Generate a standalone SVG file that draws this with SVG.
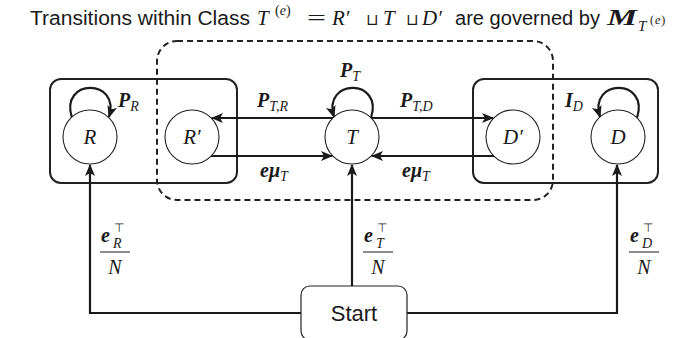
<svg xmlns="http://www.w3.org/2000/svg" width="699" height="338" viewBox="0 0 699 338">
<style>
.sans{font-family:"Liberation Sans","DejaVu Sans",sans-serif;fill:#1a1a1a}
.mi{font-family:"Liberation Serif","DejaVu Serif",serif;font-style:italic;font-weight:normal;fill:#1a1a1a}
.mr{font-family:"Liberation Serif","DejaVu Serif",serif;font-style:normal;font-weight:normal;fill:#1a1a1a}
.mb{font-family:"Liberation Serif","DejaVu Serif",serif;font-style:italic;font-weight:bold;fill:#1a1a1a}
.sym{font-family:"DejaVu Sans",sans-serif;font-weight:normal;font-style:normal;fill:#1a1a1a}
.node{fill:#fff;stroke:#222;stroke-width:1.1}
.box{fill:none;stroke:#222;stroke-width:2}
.dash{fill:none;stroke:#222;stroke-width:2;stroke-dasharray:6 4}
.edge{fill:none;stroke:#1a1a1a;stroke-width:2.2;marker-end:url(#ah)}
.start{fill:#fff;stroke:#222;stroke-width:1.2}
.lbl{font-size:20px}
.sub{font-size:14px}
</style>
<defs>
<marker id="ah" viewBox="0 0 12 10" refX="11" refY="5" markerWidth="12" markerHeight="10" markerUnits="userSpaceOnUse" orient="auto">
<path d="M0,0 L12,5 L0,10 L3,5 z" fill="#1a1a1a"/>
</marker>
</defs>

<g id="title">
<text class="sans" x="30" y="25" font-size="20" textLength="220" lengthAdjust="spacingAndGlyphs">Transitions within Class</text>
<text class="mi" x="257" y="25" font-size="21">T</text>
<text class="mr" x="275" y="15" font-size="14">(<tspan class="mi">e</tspan>)</text>
<text class="mr" x="307" y="25" font-size="21" textLength="19" lengthAdjust="spacingAndGlyphs">=</text>
<text class="mi" x="332" y="25" font-size="21">R′</text>
<text class="sym" x="366" y="25" font-size="16">⊔</text>
<text class="mi" x="383" y="25" font-size="21">T</text>
<text class="sym" x="406" y="25" font-size="16">⊔</text>
<text class="mi" x="422" y="25" font-size="21">D′</text>
<text class="sans" x="455" y="25" font-size="20" textLength="145" lengthAdjust="spacingAndGlyphs">are governed by</text>
<text class="mb" x="607" y="25" font-size="23" textLength="30" lengthAdjust="spacingAndGlyphs">M</text>
<text class="mi" x="638" y="31" font-size="15">T</text>
<text class="mr" x="650" y="24" font-size="12" letter-spacing="1">(<tspan class="mi">e</tspan>)</text>
</g>

<g id="class-R">
<rect class="box" x="50" y="79" width="187" height="104" rx="11"/>
</g>
<g id="class-D">
<rect class="box" x="473" y="79" width="185" height="104" rx="11"/>
</g>
<g id="class-Te">
<rect class="dash" x="157" y="41" width="396" height="159" rx="20"/>
</g>

<g id="connectors">
<path class="edge" d="M72,118 C59,78 121,78 109,117"/>
<path class="edge" d="M371,118 C384,78 322,78 334,117"/>
<path class="edge" d="M637,118 C650,78 588,78 600,117"/>
<path class="edge" d="M333,118 H212"/>
<path class="edge" d="M211,156 H332"/>
<path class="edge" d="M371,118 H493"/>
<path class="edge" d="M494,156 H372"/>
<path class="edge" d="M301,313 H90 V165"/>
<path class="edge" d="M352,286 V165"/>
<path class="edge" d="M407,313 H617 V165"/>
</g>

<g id="edge-labels">
<text x="118" y="107" class="lbl mb">P<tspan class="sub mi" dy="4">R</tspan></text>
<text x="340" y="77" class="lbl mb">P<tspan class="sub mi" dy="4">T</tspan></text>
<text x="257" y="107" class="lbl mb">P<tspan class="sub mi" dy="4">T,R</tspan></text>
<text x="400" y="107" class="lbl mb">P<tspan class="sub mi" dy="4">T,D</tspan></text>
<text x="260" y="177" class="lbl mb">eμ<tspan class="sub mi" dy="4">T</tspan></text>
<text x="402" y="177" class="lbl mb">eμ<tspan class="sub mi" dy="4">T</tspan></text>
<text x="565" y="107" class="lbl mb">I<tspan class="sub mi" dy="4">D</tspan></text>

<text x="101" y="242" class="lbl mb">e</text>
<text x="113" y="248" class="sub mi">R</text>
<text x="114" y="232" class="sym" font-size="12">⊤</text>
<line x1="100" y1="252" x2="130" y2="252" stroke="#1a1a1a" stroke-width="1"/>
<text x="115" y="274" class="lbl mi" text-anchor="middle">N</text>

<text x="364" y="242" class="lbl mb">e</text>
<text x="376" y="248" class="sub mi">T</text>
<text x="377" y="232" class="sym" font-size="12">⊤</text>
<line x1="363" y1="252" x2="393" y2="252" stroke="#1a1a1a" stroke-width="1"/>
<text x="378" y="274" class="lbl mi" text-anchor="middle">N</text>

<text x="630" y="242" class="lbl mb">e</text>
<text x="642" y="248" class="sub mi">D</text>
<text x="643" y="232" class="sym" font-size="12">⊤</text>
<line x1="629" y1="252" x2="659" y2="252" stroke="#1a1a1a" stroke-width="1"/>
<text x="644" y="274" class="lbl mi" text-anchor="middle">N</text>
</g>

<g id="node-R">
<circle class="node" cx="90" cy="137" r="27"/>
<text class="mi" x="90" y="144" font-size="21" text-anchor="middle">R</text>
</g>
<g id="node-Rp">
<circle class="node" cx="192" cy="137" r="27"/>
<text class="mi" x="192" y="144" font-size="21" text-anchor="middle">R′</text>
</g>
<g id="node-T">
<circle class="node" cx="352" cy="137" r="27"/>
<text class="mi" x="352" y="144" font-size="21" text-anchor="middle">T</text>
</g>
<g id="node-Dp">
<circle class="node" cx="513" cy="137" r="27"/>
<text class="mi" x="513" y="144" font-size="21" text-anchor="middle">D′</text>
</g>
<g id="node-D">
<circle class="node" cx="618" cy="137" r="27"/>
<text class="mi" x="618" y="144" font-size="21" text-anchor="middle">D</text>
</g>
<g id="node-Start">
<rect class="start" x="301" y="286" width="106" height="54" rx="9"/>
<text class="sans" x="354" y="321" font-size="22" text-anchor="middle">Start</text>
</g>
</svg>
